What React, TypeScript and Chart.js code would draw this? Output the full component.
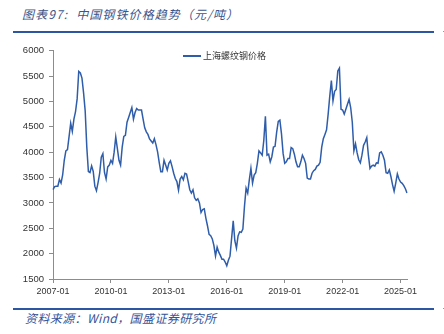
import React, { useEffect, useRef } from "react";
import { Chart, registerables } from "chart.js";

Chart.register(...registerables);

const START_YEAR = 2007;
const SERIES_NAME = "上海螺纹钢价格";
const TITLE_LEAD = "图表97:";
const TITLE_TEXT = "中国钢铁价格趋势（元/吨）";
const SOURCE = "资料来源：Wind，国盛证券研究所";

const rebarPrice: number[] = [
  3260, 3320, 3330, 3330, 3460, 3390, 3550, 3840, 4025, 4050, 4310, 4570,
  4410, 4650, 4800, 5050, 5590, 5560, 5460, 5170, 4815, 4100, 3620, 3600,
  3730, 3620, 3330, 3240, 3400, 3580, 3900, 3970, 3600, 3470, 3710, 3745,
  3840, 3780, 4000, 4300, 4070, 3840, 3745, 4100, 4310, 4330, 4590, 4685,
  4780, 4880, 4650, 4780, 4860, 4830, 4830, 4830, 4650, 4480, 4400, 4350,
  4260, 4220, 4180, 4265, 4150, 4005, 3800, 3615, 3615, 3840, 3745, 3650,
  3780, 3830, 3715, 3585, 3480, 3420, 3250, 3470, 3520, 3455, 3585, 3570,
  3420, 3260, 3195, 3260, 3100, 3050, 3080, 3000, 2810, 2870, 2885, 2700,
  2550, 2380, 2355, 2290, 2160, 1955, 2130, 2030, 1965, 1890, 1890, 1835,
  1760, 1870, 1950, 2300, 2645, 2255, 2110, 2350, 2430, 2420, 2485, 2935,
  3290, 3195, 3455, 3680, 3390, 3550, 3595, 3780, 4025, 3985, 3940, 4230,
  4705, 3940, 3960, 3810, 3910, 4100, 4115, 4395, 4605, 4630, 4360, 3975,
  3780, 3810, 3875, 3875, 4090, 4070, 3960, 3810, 3715, 3715, 3810, 3940,
  3875, 3780, 3490, 3470, 3470, 3585, 3635, 3660, 3725, 3745, 3800, 4100,
  4265, 4350, 4440, 4750, 5105, 5410, 5010, 5200, 5235, 5600, 5655, 4845,
  4830, 4750, 4845, 4945, 5040, 4880, 4590, 4025, 4165, 3985, 3850, 3790,
  3940, 4135, 4200, 4285, 3940, 3680, 3725, 3745, 3725, 3790, 3780, 3985,
  4005, 3940, 3840, 3595, 3585, 3650, 3520, 3360, 3230, 3390, 3570, 3470,
  3410, 3385, 3340, 3280, 3195,
];

const xTickLabels: string[] = [
  "2007-01", "2010-01", "2013-01", "2016-01", "2019-01", "2022-01", "2025-01",
];
const yTicks: number[] = [1500, 2000, 2500, 3000, 3500, 4000, 4500, 5000, 5500, 6000];

const categories: string[] = rebarPrice.map((_, i) => {
  const y = START_YEAR + Math.floor(i / 12);
  const m = (i % 12) + 1;
  return `${y}-${m < 10 ? "0" + m : m}`;
});

const LINE_COLOR = "#2F5DAA";
const AXIS_COLOR = "#8c8c8c";
const TEXT_COLOR = "#333333";
const LATIN = "'Liberation Sans', Arial, 'Noto Sans CJK SC', sans-serif";
const CJK = "'Noto Sans CJK SC', 'Liberation Sans', sans-serif";

export default function App() {
  const canvasRef = useRef<HTMLCanvasElement | null>(null);

  useEffect(() => {
    if (!canvasRef.current) return;
    const chart = new Chart(canvasRef.current, {
      type: "line",
      data: {
        labels: categories,
        datasets: [
          {
            label: SERIES_NAME,
            data: rebarPrice,
            borderColor: LINE_COLOR,
            borderWidth: 1.5,
            pointRadius: 0,
            tension: 0,
            fill: false,
          },
        ],
      },
      options: {
        animation: false,
        responsive: false,
        maintainAspectRatio: false,
        layout: { padding: { left: 0, right: 37, top: 7, bottom: 0 } },
        plugins: {
          legend: { display: false },
          tooltip: { enabled: false },
        },
        scales: {
          x: {
            type: "category",
            offset: false,
            grid: {
              display: true,
              drawOnChartArea: false,
              drawTicks: true,
              tickLength: 4,
              color: AXIS_COLOR,
            },
            border: { color: AXIS_COLOR, width: 1 },
            ticks: {
              autoSkip: false,
              maxRotation: 0,
              minRotation: 0,
              padding: 3,
              color: TEXT_COLOR,
              font: { family: LATIN, size: 9 },
              callback: (_v: any, idx: number) =>
                xTickLabels.includes(categories[idx]) ? categories[idx] : null,
            },
            afterFit: (scale: any) => {
              scale.height = 21;
            },
          },
          y: {
            min: yTicks[0],
            max: yTicks[yTicks.length - 1],
            grid: {
              display: true,
              drawOnChartArea: false,
              drawTicks: true,
              tickLength: 4,
              color: AXIS_COLOR,
            },
            border: { color: AXIS_COLOR, width: 1 },
            afterBuildTicks: (scale: any) => {
              scale.ticks = yTicks.map((v) => ({ value: v }));
            },
            ticks: {
              padding: 5,
              color: TEXT_COLOR,
              font: { family: LATIN, size: 9.5 },
              callback: (v: any) => String(v),
            },
            afterFit: (scale: any) => {
              scale.width = 53;
            },
          },
        },
      },
    });
    return () => chart.destroy();
  }, []);

  return (
    <div
      style={{
        position: "absolute",
        left: 0,
        top: 0,
        width: 444,
        height: 334,
        background: "#ffffff",
        overflow: "hidden",
      }}
    >
      <div
        style={{
          position: "absolute",
          left: 22,
          top: 6,
          fontFamily: CJK,
          fontSize: 12,
          lineHeight: "16px",
          fontStyle: "italic",
          color: "#3d5488",
          whiteSpace: "nowrap",
          letterSpacing: "1.1px",
        }}
      >
        {TITLE_LEAD}
        <span style={{ marginLeft: 8 }}>{TITLE_TEXT}</span>
      </div>
      <div
        style={{
          position: "absolute",
          left: 13,
          top: 30.5,
          width: 421,
          height: 2,
          background: "#2C55A2",
        }}
      />
      <div style={{ position: "absolute", left: 443, top: 31, width: 1, height: 1, background: "#999" }} />
      <canvas
        ref={canvasRef}
        width={444}
        height={260}
        style={{ position: "absolute", left: 0, top: 40, width: 444, height: 260 }}
      />
      <div
        style={{
          position: "absolute",
          left: 183,
          top: 55,
          width: 18,
          height: 1.5,
          background: LINE_COLOR,
        }}
      />
      <div
        style={{
          position: "absolute",
          left: 203,
          top: 49.5,
          fontFamily: CJK,
          fontSize: 9,
          lineHeight: "12px",
          color: TEXT_COLOR,
          whiteSpace: "nowrap",
        }}
      >
        {SERIES_NAME}
      </div>
      <div
        style={{
          position: "absolute",
          left: 13,
          top: 307.5,
          width: 421,
          height: 2,
          background: "#2C55A2",
        }}
      />
      <div style={{ position: "absolute", left: 443, top: 308, width: 1, height: 1, background: "#999" }} />
      <div
        style={{
          position: "absolute",
          left: 25,
          top: 310,
          fontFamily: CJK,
          fontSize: 12,
          lineHeight: "16px",
          fontStyle: "italic",
          color: "#34549a",
          whiteSpace: "nowrap",
          letterSpacing: "0.4px",
        }}
      >
        {SOURCE}
      </div>
    </div>
  );
}
